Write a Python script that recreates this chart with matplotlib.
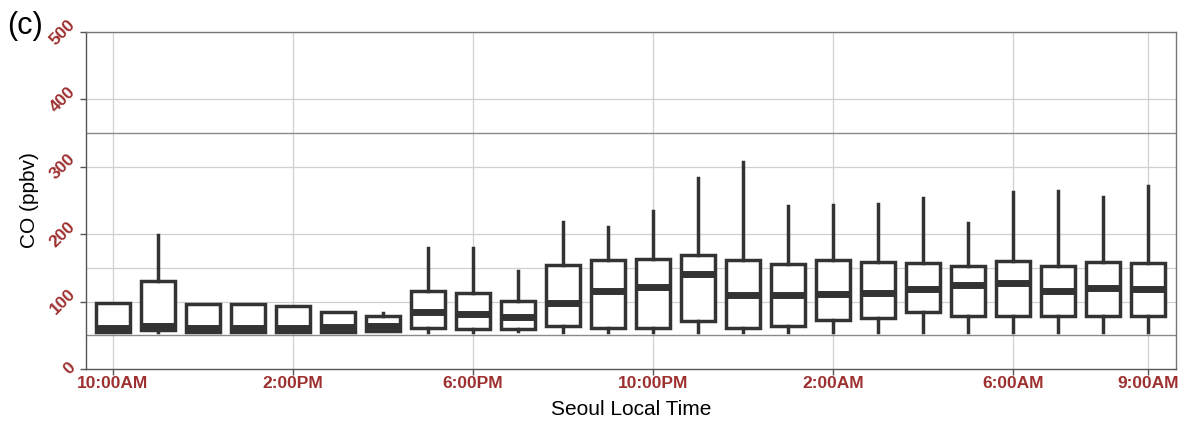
import numpy as np
import matplotlib
matplotlib.use("Agg")
from matplotlib import pyplot as plt

plt.rcParams['font.family'] = ['Liberation Sans', 'DejaVu Sans']

# hourly CO boxes, 10:00AM .. 9:00AM (Seoul local time)
hours = list(range(24))
whis_lo = [55, 55, 55, 55, 55, 55, 56, 55, 55, 56, 55, 55, 55, 55, 55, 55, 55, 55, 55, 55, 55, 55, 55, 55]
q1 = [55, 58, 55, 55, 55, 55, 56, 61, 59, 59, 63, 61, 61, 71, 61, 64, 72, 76, 85, 78, 78, 78, 78, 79]
med = [61, 63, 61, 61, 61, 62, 63, 84, 81, 77, 98, 116, 121, 141, 110, 110, 111, 112, 118, 124, 127, 116, 120, 118]
q3 = [98, 131, 96, 96, 94, 84, 79, 116, 112, 101, 154, 162, 163, 169, 162, 155, 162, 158, 157, 152, 160, 153, 158, 157]
whis_hi = [98, 199, 96, 96, 94, 84, 83, 180, 179, 146, 218, 211, 234, 284, 307, 242, 243, 245, 254, 216, 263, 264, 255, 272]

tick_pos = [0, 4, 8, 12, 16, 20, 23]
tick_lab = ['10:00AM', '2:00PM', '6:00PM', '10:00PM', '2:00AM', '6:00AM', '9:00AM']

stats = []
for i in hours:
    stats.append(dict(whislo=whis_lo[i], q1=q1[i], med=med[i], q3=q3[i],
                      whishi=whis_hi[i], fliers=[]))

fig = plt.figure(figsize=(11.84, 4.23), dpi=100)
ax = fig.add_axes([0.0726, 0.128, 0.9204, 0.796])

red = '#9e3030'
dark = '#333333'

# grid
ax.set_axisbelow(True)
for y in [100, 150, 200, 300, 400, 500]:
    ax.axhline(y, color='#d0d0d0', lw=0.9, zorder=0)
for x in tick_pos:
    ax.axvline(x, color='#d0d0d0', lw=0.9, zorder=0)
for y in [50, 350]:
    ax.axhline(y, color='#8a8a8a', lw=1.0, zorder=0.5)

ax.bxp(stats, positions=hours, widths=0.75, showcaps=False, showfliers=False,
       patch_artist=True,
       boxprops=dict(facecolor='white', edgecolor=dark, linewidth=2.5),
       whiskerprops=dict(color=dark, linewidth=2.5),
       medianprops=dict(color=dark, linewidth=5, solid_capstyle='butt'))

ax.set_xlim(-0.6, 23.62)
ax.set_ylim(0, 500)
ax.set_yticks([0, 100, 200, 300, 400, 500])
ax.set_xticks(tick_pos)
ax.set_xticklabels(tick_lab)

for lab in ax.get_yticklabels():
    lab.set_rotation(45)
    lab.set_color(red)
    lab.set_fontweight('bold')
    lab.set_fontsize(12.5)
    lab.set_ha('right')
    lab.set_va('center')
for lab in ax.get_xticklabels():
    lab.set_color(red)
    lab.set_fontweight('bold')
    lab.set_fontsize(12.5)

ax.tick_params(axis='both', direction='out', length=4, width=1, color='#555555', pad=1.5)

for s in ax.spines.values():
    s.set_color('#777777')
    s.set_linewidth(1.0)
ax.spines['left'].set_color('#555555')
ax.spines['bottom'].set_color('#555555')

ax.set_xlabel('Seoul Local Time', fontsize=15, labelpad=6)
ax.set_ylabel('CO (ppbv)', fontsize=15, labelpad=6)

fig.text(0.006, 0.975, '(c)', fontsize=22, ha='left', va='top')

fig.savefig('out.png', dpi=100)
